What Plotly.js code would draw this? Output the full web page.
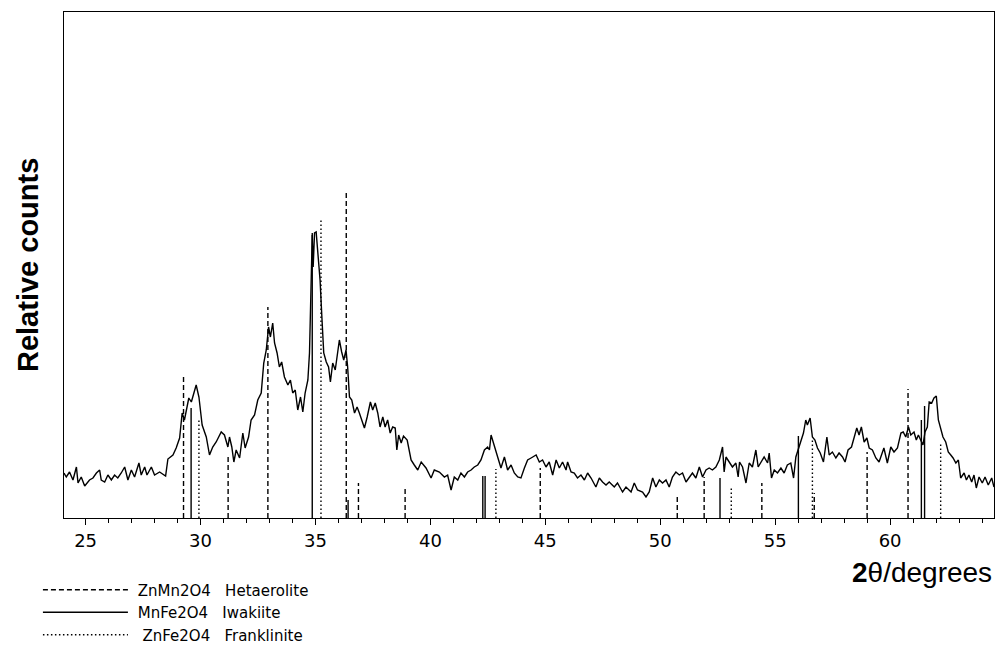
<!DOCTYPE html>
<html>
<head>
<meta charset="utf-8">
<script src="https://cdn.plot.ly/plotly-3.0.1.min.js"></script>
<style>html,body{margin:0;padding:0;background:#fff}#chart{width:998px;height:648px}</style>
</head>
<body>
<div id="chart"></div>
<script>
// Measured XRD pattern (2θ in degrees, relative counts)
const twoTheta = [24.06,24.16,24.30,24.45,24.60,24.67,24.81,24.96,25.17,25.32,25.47,25.61,25.68,25.83,25.97,26.12,26.26,26.40,26.55,26.70,26.84,26.99,27.13,27.32,27.42,27.57,27.67,27.86,28.00,28.22,28.48,28.58,28.80,28.94,29.09,29.20,29.30,29.40,29.49,29.60,29.70,29.81,29.93,30.07,30.25,30.39,30.53,30.68,30.90,31.04,31.19,31.26,31.36,31.45,31.55,31.70,31.84,31.94,32.09,32.20,32.35,32.49,32.64,32.75,32.86,32.96,33.04,33.14,33.22,33.33,33.43,33.53,33.65,33.80,33.91,34.01,34.12,34.23,34.35,34.45,34.55,34.67,34.74,34.81,34.86,34.90,34.96,35.03,35.10,35.20,35.27,35.36,35.47,35.57,35.65,35.75,35.86,35.97,36.04,36.14,36.23,36.33,36.40,36.48,36.58,36.70,36.81,36.91,37.01,37.13,37.25,37.39,37.49,37.60,37.71,37.81,37.93,38.03,38.14,38.25,38.36,38.47,38.54,38.62,38.73,38.83,38.99,39.16,39.30,39.45,39.60,39.81,40.03,40.17,40.39,40.61,40.75,40.90,41.04,41.19,41.33,41.48,41.62,41.77,41.91,42.06,42.20,42.35,42.49,42.57,42.64,42.75,42.86,42.96,43.07,43.22,43.36,43.51,43.65,43.80,43.94,44.09,44.23,44.38,44.60,44.74,44.88,45.03,45.17,45.32,45.47,45.61,45.75,45.90,45.97,46.12,46.26,46.40,46.55,46.70,46.84,46.99,47.20,47.35,47.49,47.64,47.78,48.00,48.14,48.36,48.51,48.73,48.87,49.01,49.23,49.38,49.52,49.67,49.81,49.96,50.10,50.25,50.39,50.53,50.68,50.83,50.97,51.12,51.26,51.40,51.55,51.70,51.84,51.99,52.13,52.27,52.42,52.57,52.71,52.78,52.86,53.00,53.14,53.29,53.39,53.45,53.58,53.73,53.87,54.01,54.16,54.26,54.38,54.52,54.67,54.74,54.84,54.96,55.10,55.25,55.39,55.53,55.68,55.80,55.90,56.00,56.12,56.23,56.33,56.40,56.52,56.62,56.73,56.84,56.96,57.10,57.25,57.35,57.49,57.64,57.78,57.93,58.04,58.17,58.32,58.43,58.55,58.65,58.75,58.87,58.99,59.09,59.23,59.38,59.52,59.73,59.88,60.03,60.17,60.32,60.47,60.57,60.68,60.80,60.90,61.04,61.14,61.23,61.33,61.43,61.52,61.62,61.70,61.81,61.91,62.01,62.10,62.20,62.30,62.42,62.53,62.64,62.74,62.86,62.97,63.07,63.22,63.32,63.43,63.55,63.65,63.75,63.87,64.01,64.13,64.27,64.42,64.52];
const counts = [45,41,46,38,51,35,41,32,38,40,45,48,38,36,43,38,43,40,45,51,38,48,41,55,43,51,43,51,43,46,42,59,63,70,80,105,98,108,120,116,125,133,121,93,81,63,71,76,86,83,71,81,71,56,68,60,85,70,81,98,103,118,125,155,168,191,181,195,175,165,151,156,141,133,138,125,128,108,121,106,125,138,165,238,283,251,285,286,265,238,205,165,156,151,136,155,148,165,178,166,158,168,151,121,118,105,111,105,98,90,101,116,108,115,105,91,101,91,98,85,91,90,68,83,75,82,78,58,53,48,56,50,40,48,46,41,43,28,41,38,45,41,46,48,51,53,58,68,71,68,83,75,66,58,50,61,48,53,45,41,40,50,58,60,63,56,58,51,56,43,58,50,56,48,56,46,45,40,43,38,45,40,31,40,36,33,36,31,35,26,31,26,35,28,26,21,26,40,31,38,35,38,31,41,46,43,45,36,41,45,40,51,41,48,50,48,51,58,71,46,61,56,51,55,41,56,51,35,55,51,68,51,56,61,55,65,40,48,45,50,45,53,55,40,61,68,75,85,98,93,100,81,78,70,65,56,81,63,66,60,65,61,56,68,71,80,90,83,91,76,80,70,68,60,56,70,55,71,66,70,85,86,81,91,83,86,78,83,78,73,86,91,116,115,120,122,98,90,81,76,66,63,60,55,58,40,45,38,43,36,43,30,41,35,41,33,40,31];

// Reference stick patterns (position 2θ, relative intensity)
const hetaeroliteName = "\u00a0ZnMn2O4\u00a0\u00a0\u00a0Hetaerolite";
const hetaerolitePos = [29.26,31.20,32.93,36.34,36.87,38.90,44.78,50.74,51.91,54.42,56.70,59.00,60.78];
const hetaeroliteInt = [143,62,211,325,35,30,50,21,41,35,25,66,129];

const iwakiiteName = "\u00a0MnFe2O4\u00a0\u00a0\u00a0Iwakiite";
const iwakiitePos = [29.59,34.86,36.42,42.28,42.38,52.60,56.01,61.36,61.50];
const iwakiiteInt = [110,285,18,42,42,40,82,98,112];

const frankliniteName = "\u00a0\u00a0ZnFe2O4\u00a0\u00a0\u00a0Franklinite";
const franklinitePos = [29.93,35.24,42.85,53.09,56.62,62.20];
const frankliniteInt = [100,299,49,31,80,76];

function sticks(pos, inten) {
  const x = [], y = [];
  pos.forEach((p, i) => { x.push(p, p, null); y.push(0, inten[i], null); });
  return {x, y};
}

const h = sticks(hetaerolitePos, hetaeroliteInt);
const w = sticks(iwakiitePos, iwakiiteInt);
const f = sticks(franklinitePos, frankliniteInt);

const traces = [
  {x: twoTheta, y: counts, type: 'scatter', mode: 'lines', line: {color: '#000', width: 1.4}, showlegend: false, hoverinfo: 'x+y'},
  {x: h.x, y: h.y, type: 'scatter', mode: 'lines', name: hetaeroliteName, line: {color: '#000', width: 1.4, dash: '5px,3px'}, legendgroup: 'a'},
  {x: w.x, y: w.y, type: 'scatter', mode: 'lines', name: iwakiiteName, line: {color: '#000', width: 1.4}, legendgroup: 'b'},
  {x: f.x, y: f.y, type: 'scatter', mode: 'lines', name: frankliniteName, line: {color: '#000', width: 1.4, dash: '1.5px,2.5px'}, legendgroup: 'c'}
];

const layout = {
  width: 998, height: 648,
  margin: {l: 64, r: 4, t: 12, b: 130, autoexpand: false},
  paper_bgcolor: '#fff', plot_bgcolor: '#fff',
  font: {family: 'Liberation Sans, Arial, sans-serif', color: '#000'},
  showlegend: true,
  legend: {
    xref: 'container', yref: 'container', x: 0.038, y: 0.115, xanchor: 'left', yanchor: 'top',
    font: {family: 'DejaVu Sans, sans-serif', size: 15, color: '#000'},
    itemwidth: 85, tracegroupgap: 0, traceorder: 'grouped', bgcolor: 'rgba(0,0,0,0)', borderwidth: 0
  },
  xaxis: {
    range: [24.06, 64.52], tick0: 25, dtick: 5, ticks: 'outside', ticklen: 6, tickwidth: 1, tickcolor: '#000',
    showline: true, linecolor: '#000', linewidth: 1, mirror: true, showgrid: false, zeroline: false,
    tickfont: {size: 18, family: 'DejaVu Sans, sans-serif'},
    minor: {dtick: 1, tick0: 25, ticks: 'outside', ticklen: 4, tickcolor: '#000', showgrid: false}
  },
  xaxis2: {
    overlaying: 'x', matches: 'x', side: 'top', anchor: 'y', tick0: 25, dtick: 5, ticks: 'inside', ticklen: 6,
    tickcolor: '#000', showticklabels: false, showgrid: false, zeroline: false, showline: false
  },
  yaxis: {
    range: [0, 506], showticklabels: false, ticks: '', showline: true, linecolor: '#000', linewidth: 1, mirror: true,
    showgrid: false, zeroline: false
  },
  annotations: [{
    xref: 'paper', yref: 'paper', x: 1.0, y: -0.107, xanchor: 'right', yanchor: 'middle', showarrow: false,
    text: '<b>2</b>θ/degrees', font: {size: 28, family: 'Liberation Sans, Arial, sans-serif', color: '#000'}
  }, {
    xref: 'paper', yref: 'paper', x: -0.0387, y: 0.5, xanchor: 'center', yanchor: 'middle', showarrow: false,
    textangle: -90, text: '<b>Relative counts</b>', font: {size: 29, family: 'Liberation Sans, Arial, sans-serif', color: '#000'}
  }]
};

Plotly.newPlot('chart', traces, layout, {displayModeBar: false, staticPlot: true});
</script>
</body>
</html>
